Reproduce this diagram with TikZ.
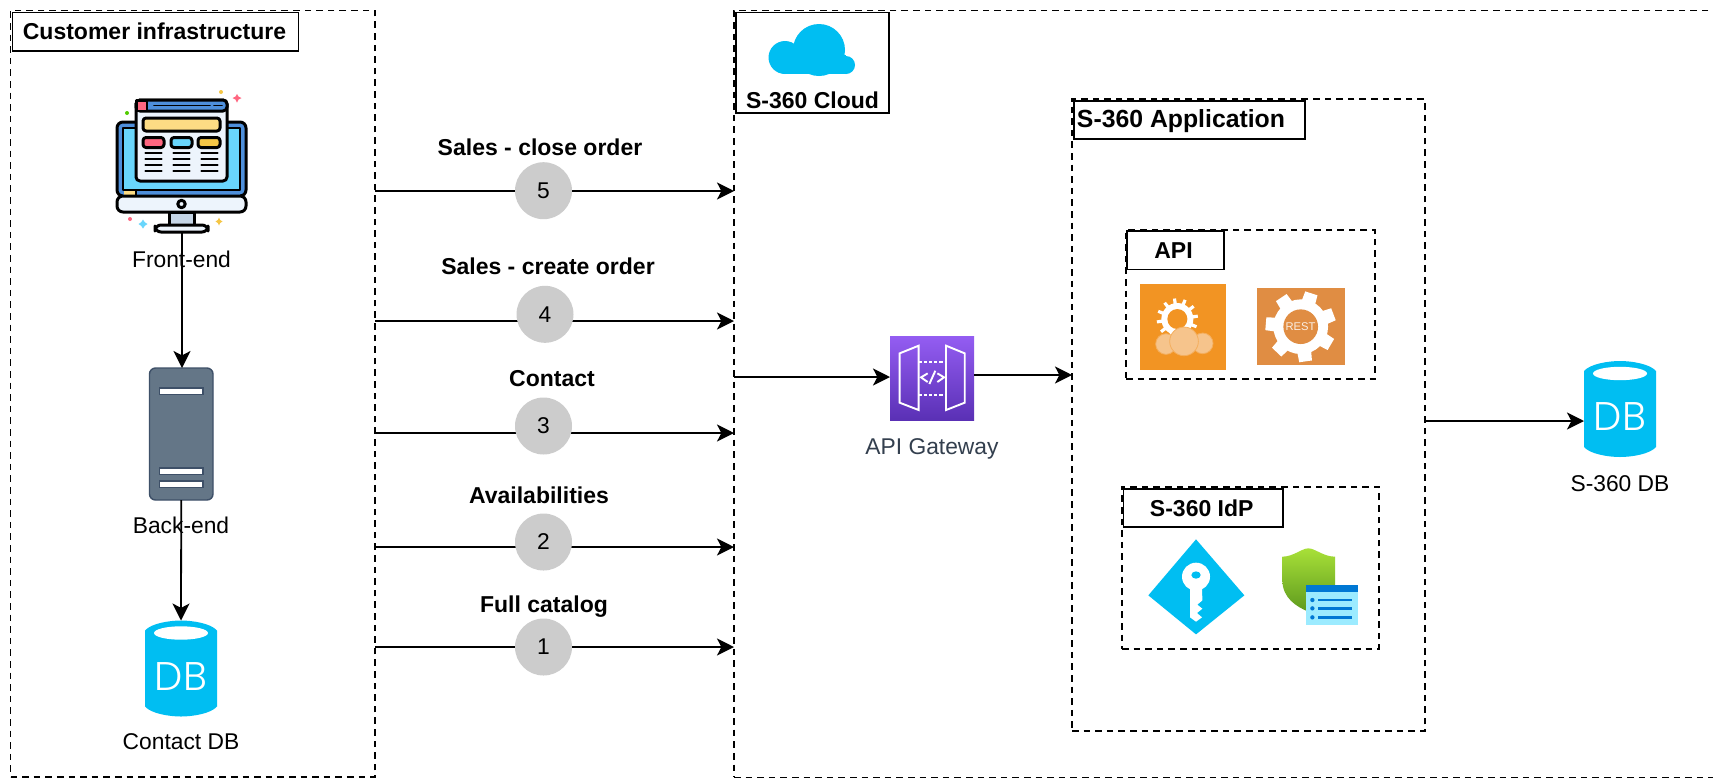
\documentclass[tikz,border=0pt]{standalone}
\usepackage{fontspec}
\setmainfont{Liberation Sans}
\newfontfamily\dbfont{Poppins Light}
\usetikzlibrary{arrows.meta,shapes.geometric}
\definecolor{dbblue}{HTML}{00BEF2}
\definecolor{mblue}{HTML}{4E8FDB}
\definecolor{mcyan}{HTML}{69D6FC}
\definecolor{mpale}{HTML}{EDF4FC}
\definecolor{myellow}{HTML}{FDDC84}
\definecolor{mred}{HTML}{FF6680}
\definecolor{morange}{HTML}{F5C645}
\definecolor{mstand}{HTML}{C5D5E6}
\definecolor{srvfill}{HTML}{647687}
\definecolor{srvedge}{HTML}{3E5068}
\definecolor{stepgrey}{HTML}{CCCCCC}
\definecolor{gwtop}{HTML}{945DF2}
\definecolor{gwbot}{HTML}{5A30B5}
\definecolor{gwtext}{HTML}{333F4E}
\definecolor{apiorange}{HTML}{F29423}
\definecolor{apipale}{HTML}{F6C48C}
\definecolor{restorange}{HTML}{E08D43}
\definecolor{shieldtop}{HTML}{A8E038}
\definecolor{shieldbot}{HTML}{5E9A1E}
\definecolor{winpale}{HTML}{9CEBFF}
\definecolor{winblue}{HTML}{0078D4}
\newcommand{\rectnode}[6]{%
  \node[#1,minimum width={(#5-(#3))*0.5pt},minimum height={(#6-(#4))*0.5pt}]
    (#2) at ({((#3)+(#5))/2},{((#4)+(#6))/2}) {};}
\newcommand{\titlenode}[7]{%
  \node[#1,minimum width={(#5-(#3))*0.5pt},minimum height={(#6-(#4))*0.5pt}]
    (#2) at ({((#3)+(#5))/2},{((#4)+(#6))/2}) {#7};}
% database icon: name, left x, top y (72 x 96 px)
\newcommand{\dbicon}[3]{%
  \begin{scope}[shift={(#2,#3)}]
    \fill[dbblue] (0,10) .. controls (6,3) and (24,0) .. (36,0) .. controls (48,0) and (66,3) .. (72,10)
      -- (72,86) .. controls (66,93) and (48,96) .. (36,96) .. controls (24,96) and (6,93) .. (0,86) -- cycle;
    \fill[white] (36,12.5) ellipse [x radius=27,y radius=6.7];
    \node[inner sep=0pt,outer sep=0pt,minimum width=36pt,minimum height=48pt] (#1) at (36,48) {};
    \node[dbtext] (#1text) at (36,56) {DB};
  \end{scope}}
\newcommand{\gearteeth}[6]{% cx cy r(body) teeth-length tooth-width n
  \begin{scope}[shift={(#1,#2)}]
    \fill[white] (0,0) circle [radius=#3];
    \foreach \k in {1,...,#6}{
      \fill[white,rotate={\k*360/#6+8}] (-#5/2,0) -- (-#5/2.6,{#3+#4}) -- (#5/2.6,{#3+#4}) -- (#5/2,0) -- cycle;
    }
  \end{scope}}
\tikzset{
  dashedbox/.style={draw=black,line width=.8pt,dash pattern=on 3.3pt off 2.5pt,fill=none,inner sep=0pt,outer sep=0pt},
  titlebox/.style={draw=black,line width=.85pt,fill=white,inner sep=0pt,outer sep=0pt,font=\fontsize{11.5pt}{13pt}\selectfont\bfseries},
  conn/.style={draw=black,line width=.9pt,-{Stealth[length=8.5pt,width=8.5pt,inset=2.2pt]}},
  stepcircle/.style={circle,fill=stepgrey,minimum size=28.5pt,inner sep=0pt,outer sep=0pt,font=\fontsize{11.4pt}{13pt}\selectfont},
  boldlabel/.style={inner sep=0pt,font=\fontsize{11.5pt}{13pt}\selectfont\bfseries},
  plainlabel/.style={inner sep=0pt,font=\fontsize{11.4pt}{13pt}\selectfont},
  dbtext/.style={inner sep=0pt,text=white,font=\dbfont\fontsize{20pt}{21pt}\selectfont},
  iconline/.style={draw=black,line width=1.5pt,line join=round,line cap=round},
}
\begin{document}
\begin{tikzpicture}[x=0.5pt,y=-0.5pt]
\useasboundingbox (0,0) rectangle (1713,778);
\clip (0,0) rectangle (1713,778);
\fill[white] (0,0) rectangle (1713,778);

% containers
\rectnode{dashedbox}{cust}{10.5}{10.5}{375}{777}
\rectnode{dashedbox}{cloudbox}{734}{10.5}{1760}{777.3}
\rectnode{dashedbox}{app}{1072}{99}{1425}{731}
\rectnode{dashedbox}{api}{1126}{230}{1375}{379}
\rectnode{dashedbox}{idp}{1122}{487}{1379}{649}

\titlenode{titlebox}{custtitle}{12.5}{12.5}{298.5}{51}{\hspace{-1pt}Customer infrastructure}
\titlenode{titlebox}{cloudtitle}{736}{12.5}{889}{113}{}
\node[boldlabel] (cloudlabel) at (812.5,100) {S-360 Cloud};
\titlenode{titlebox}{apptitle}{1074}{101}{1305}{139}{}
\node[boldlabel,font=\fontsize{12.4pt}{14pt}\selectfont\bfseries] (applabel) at (1181,121) {S-360 Application};
\titlenode{titlebox}{apititle}{1127}{231}{1224}{269.5}{\hspace{-2pt}API}
\titlenode{titlebox}{idptitle}{1123.5}{489}{1283}{527}{\hspace{-1.5pt}S-360 IdP}

% cloud icon
\fill[dbblue] (819,50) circle [radius=26];
\fill[dbblue] (785,57.5) circle [radius=16.5];
\fill[dbblue] (846,65) circle [radius=9];
\fill[dbblue] (785,74) -- (846,74) -- (846,55) -- (785,55) -- cycle;

% front-end monitor
\begin{scope}[iconline]
  \path[fill=mblue,draw=black,rounded corners=3pt] (117,196) -- (117,122) -- (246,122) -- (246,196) -- cycle;
  \path[fill=mcyan,draw=black,line width=1.1pt] (123,128) rectangle (240,190);
  \path[fill=mblue,draw=none] (123,190.5) rectangle (240,195.5);
  \path[fill=myellow,draw=none] (124,191) rectangle (135,195);
  \draw[line width=1pt] (136,190) -- (136,196);
  \path[fill=mpale,draw=black,rounded corners=3pt] (117,196) -- (246,196) -- (246,212) -- (117,212) -- cycle;
  \path[fill=mstand,draw=black] (169,212) rectangle (194,225);
  \path[fill=mpale,draw=black,rounded corners=3pt] (155,225) rectangle (208,232);
  \path[fill=mpale,draw=black] (181.5,204) circle [radius=3.7];
  \path[fill=mpale,draw=black,rounded corners=2pt] (136,100) rectangle (227,181);
  \path[fill=mblue,draw=black,rounded corners=2pt] (136,100) -- (227,100) -- (227,111) -- (136,111) -- cycle;
  \path[fill=mred,draw=black,line width=1.1pt] (136.5,100.5) rectangle (147,111);
  \draw[line width=.9pt] (154,105.5) -- (210,105.5) (214,105.5) -- (222,105.5);
  \path[fill=myellow,draw=black,rounded corners=1.5pt] (143,118) rectangle (220,131);
  \path[fill=mred,draw=black,rounded corners=1.5pt] (143,137.5) rectangle (164,147.5);
  \path[fill=mcyan,draw=black,rounded corners=1.5pt] (171,137.5) rectangle (192,147.5);
  \path[fill=morange,draw=black,rounded corners=1.5pt] (198,137.5) rectangle (220,147.5);
  \foreach \yy in {153,159,165,171}{
    \draw[line width=1.1pt] (145.5,\yy) -- (161.5,\yy) (173.5,\yy) -- (189.5,\yy) (201.5,\yy) -- (217.5,\yy);
  }
\end{scope}
\fill[morange] (221,92) circle [radius=2];
\fill[mred] (237,94) -- (238.5,96.5) -- (241.5,98) -- (238.5,99.5) -- (237,102.5) -- (235.5,99.5) -- (232.5,98) -- (235.5,96.5) -- cycle;
\fill[green!60!yellow!80!black] (127,113) circle [radius=2];
\fill[mred] (130,219) circle [radius=2];
\fill[mcyan] (143,219.5) -- (144.8,222.2) -- (147.5,224) -- (144.8,225.8) -- (143,228.5) -- (141.2,225.8) -- (138.5,224) -- (141.2,222.2) -- cycle;
\fill[morange] (219,217.5) -- (220.2,220) -- (222.5,221.5) -- (220.2,223) -- (219,225.5) -- (217.8,223) -- (215.5,221.5) -- (217.8,220) -- cycle;
\coordinate (frontbottom) at (182,232);
\node[plainlabel,fill=none] (frontlabel) at (181.5,259) {Front-end};

% back-end server
\path[fill=srvfill,draw=srvedge,line width=.7pt,rounded corners=3pt] (149.5,500) -- (149.5,368) -- (213,368) -- (213,500) -- cycle;
\foreach \yy in {388,468,481}{
  \path[fill=white,draw=srvedge,line width=.8pt] (159.5,\yy) rectangle (203,{\yy+6.5});
}
\node[inner sep=0pt,outer sep=0pt,minimum width=31.75pt,minimum height=66pt] (server) at (181.25,434) {};
\node[plainlabel] (backlabel) at (181,525) {Back-end};

% databases
\dbicon{contactdb}{145}{620.5}
\node[plainlabel] (contactlabel) at (181,741.5) {Contact DB};
\dbicon{s360db}{1584}{361}
\node[plainlabel] (s360label) at (1620,484) {S-360 DB};

% vertical connectors
\coordinate (a1) at (0,647);
\coordinate (a2) at (0,547);
\coordinate (a3) at (0,433);
\coordinate (a4) at (0,321);
\coordinate (a5) at (0,191);
\draw[conn] (frontbottom) -- (server.north -| frontbottom);
\draw[conn] (server.south) -- (contactdb.north);

% numbered flows
\foreach \n in {1,...,5}{
  \draw[conn] (cust.east |- a\n) -- (cloudbox.west |- a\n);
}
\node[stepcircle] (s5) at (543.5,190.7) {5};
\node[stepcircle] (s4) at (545,314.3) {4};
\node[stepcircle] (s3) at (543.5,426) {3};
\node[stepcircle] (s2) at (543.5,542) {2};
\node[stepcircle] (s1) at (543.5,647) {1};
\node[boldlabel] (l5) at (540,147) {Sales - close order};
\node[boldlabel] (l4) at (548,266) {Sales - create order};
\node[boldlabel] (l3) at (552,379) {Contact};
\node[boldlabel] (l2) at (539,495) {Availabilities};
\node[boldlabel] (l1) at (544,606.5) {Full catalog};

% API gateway
\node[inner sep=0pt,outer sep=0pt,minimum width=42pt,minimum height=42pt,top color=gwtop,bottom color=gwbot] (gateway) at (932,378) {};
\begin{scope}[shift={(860,320)},x=0.1667pt,y=-0.1667pt,draw=white,line width=.95pt,line join=miter]
  \draw (119,100) -- (176,77) -- (176,270) -- (119,248) -- cycle;
  \draw (258,77) -- (314,100) -- (314,248) -- (258,270) -- cycle;
  \draw[dash pattern=on 1.6pt off 1pt] (176,125) -- (258,125) (176,225) -- (258,225);
  \draw (203,160) -- (183,172) -- (203,186) (208,192) -- (226,152) (232,160) -- (252,172) -- (232,186);
\end{scope}
\node[plainlabel,text=gwtext] (gwlabel) at (932,449) {API Gateway};
\coordinate (gw1) at (0,377);
\coordinate (gw2) at (0,375);
\coordinate (appout) at (0,421);
\draw[conn] (cloudbox.west |- gw1) -- (gateway.west |- gw1);
\draw[conn] (gateway.east |- gw2) -- (app.west |- gw2);
\draw[conn] (app.east |- appout) -- (s360db.west |- appout);

% API icons
\fill[apiorange] (1140,284) rectangle (1226,370);
\begin{scope}[shift={(1110,220)},x=0.1667pt,y=-0.1667pt]
  \gearteeth{202}{297}{48}{14}{12}{12}
  \fill[apiorange] (202,297) circle [radius=30];
  \foreach \cx/\cy/\r in {168/372/31,278/370/31,222/364/43}{
    \path[fill=apipale,draw=apiorange!45!apipale,line width=.4pt] (\cx,\cy) circle [radius=\r];
  }
\end{scope}
\fill[restorange] (1257,288) rectangle (1345,365);
\begin{scope}[shift={(1110,220)},x=0.1667pt,y=-0.1667pt]
  \gearteeth{572}{320}{82}{23}{50}{7}
  \fill[restorange] (572,320) circle [radius=52];
\end{scope}
\node[inner sep=0pt,text=white!85!restorange,font=\fontsize{5.6pt}{6pt}\selectfont] (resttext) at (1300.5,326.5) {REST};

% IdP icons
\begin{scope}[shift={(1140,530)},x=0.1667pt,y=-0.1667pt]
  \fill[dbblue] (168,28) -- (313,196) -- (168,313) -- (25,196) -- cycle;
  \fill[white] (168,140) circle [radius=42];
  \fill[white] (150,170) -- (150,262) -- (168,275) -- (186,262) -- (171,249) -- (187,236) -- (172,224) -- (187,211) -- (186,170) -- cycle;
  \fill[dbblue] (168,135) ellipse [x radius=14,y radius=11];
  \shade[top color=shieldtop,bottom color=shieldbot]
    (427,80) .. controls (460,80) and (485,55) .. (505,55) .. controls (525,55) and (550,80) .. (585,80)
    -- (585,165) .. controls (585,205) and (540,230) .. (505,245) .. controls (470,230) and (427,205) .. (427,150) -- cycle;
  \fill[winpale] (498,165) rectangle (655,285);
  \fill[winblue] (498,165) rectangle (655,187);
  \foreach \yy in {210,235,262}{
    \fill[winblue] (517,\yy) circle [radius=6.5];
    \fill[winblue] (533,{\yy-4}) rectangle (637,{\yy+4});
  }
\end{scope}
\end{tikzpicture}
\end{document}
